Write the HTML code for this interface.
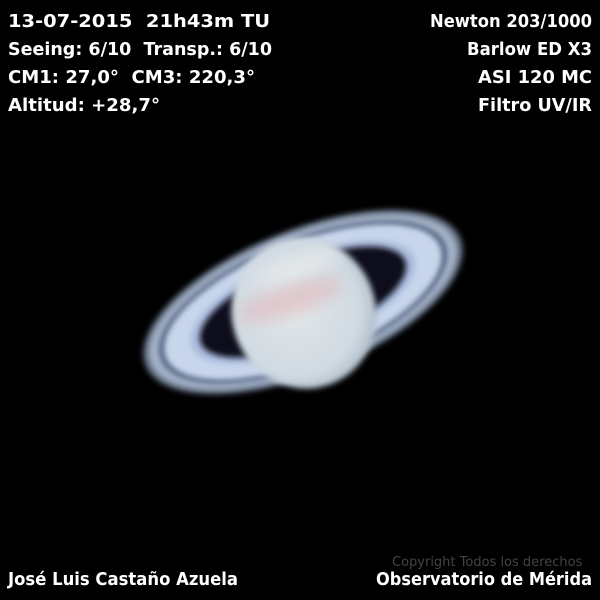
<!DOCTYPE html>
<html><head><meta charset="utf-8"><style>
html,body{margin:0;padding:0;background:#000;}
svg{display:block}
text{font-family:"DejaVu Sans","Liberation Sans",sans-serif;font-weight:bold;fill:#fff;font-size:18px;white-space:pre}
</style></head><body>
<svg width="600" height="600" viewBox="0 0 600 600" xml:space="preserve">
<defs>
<filter id="blur" x="-20%" y="-20%" width="140%" height="140%"><feGaussianBlur stdDeviation="3"/></filter>
<filter id="blur2" x="-30%" y="-30%" width="160%" height="160%"><feGaussianBlur stdDeviation="8"/></filter>
<radialGradient id="pl" cx="0.45" cy="0.45" r="0.6">
<stop offset="0" stop-color="#e2e6e8"/><stop offset="0.75" stop-color="#d0dae2"/><stop offset="1" stop-color="#a8b6c4"/></radialGradient>
</defs>
<rect width="600" height="600" fill="#000"/>
<g transform="translate(303,302) rotate(-22)">
  <ellipse rx="170" ry="72" fill="#5e6a7e" filter="url(#blur)"/>
  <ellipse rx="164" ry="68" fill="#a4b2c8" filter="url(#blur)"/>
  <ellipse rx="153" ry="62" fill="#4a5878" filter="url(#blur)"/>
  <ellipse rx="148" ry="59" fill="#c8d6ec" filter="url(#blur)"/>
  <ellipse rx="120" ry="46" fill="#aabcdc" filter="url(#blur)"/>
  <ellipse rx="110" ry="40" fill="#0a0a1c" filter="url(#blur)"/>
</g>
<g>
  <ellipse cx="304" cy="313" rx="72" ry="76" transform="rotate(-20 304 313)" fill="url(#pl)" filter="url(#blur)"/>
  <ellipse cx="290" cy="300" rx="55" ry="14" transform="rotate(-18 290 300)" fill="#e0b0b4" opacity="0.55" filter="url(#blur2)"/>
  <ellipse cx="300" cy="265" rx="45" ry="10" transform="rotate(-18 300 265)" fill="#f2f2f0" opacity="0.5" filter="url(#blur2)"/>
</g>
<text x="8" y="27" textLength="262" lengthAdjust="spacingAndGlyphs">13-07-2015  21h43m TU</text>
<text x="8" y="55" textLength="264" lengthAdjust="spacingAndGlyphs">Seeing: 6/10  Transp.: 6/10</text>
<text x="8" y="83" textLength="247" lengthAdjust="spacingAndGlyphs">CM1: 27,0°  CM3: 220,3°</text>
<text x="8" y="111" textLength="152" lengthAdjust="spacingAndGlyphs">Altitud: +28,7°</text>
<text x="430" y="27" textLength="162" lengthAdjust="spacingAndGlyphs">Newton 203/1000</text>
<text x="467" y="55" textLength="125" lengthAdjust="spacingAndGlyphs">Barlow ED X3</text>
<text x="478" y="83" textLength="114" lengthAdjust="spacingAndGlyphs">ASI 120 MC</text>
<text x="478" y="111" textLength="114" lengthAdjust="spacingAndGlyphs">Filtro UV/IR</text>
<text x="8" y="585" textLength="230" lengthAdjust="spacingAndGlyphs">José Luis Castaño Azuela</text>
<text x="376" y="585" textLength="216" lengthAdjust="spacingAndGlyphs">Observatorio de Mérida</text>
<text x="392" y="566" style="font-size:13px;font-weight:normal;fill:#444">Copyright Todos los derechos</text>
</svg>
</body></html>
